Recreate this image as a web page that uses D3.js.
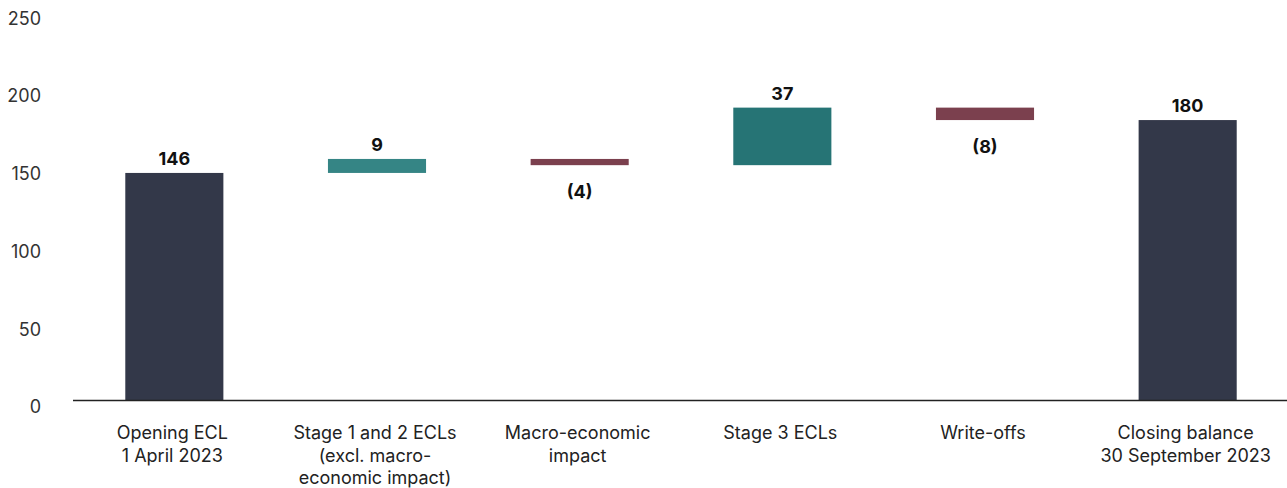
<!DOCTYPE html>
<html><head><meta charset="utf-8">
<script src="https://cdn.jsdelivr.net/npm/d3@7/dist/d3.min.js"></script>
<style>
body{margin:0;background:#fff;}
text{font-family:Inter,"Noto Sans",sans-serif;}
</style></head>
<body><svg id="c" width="1287" height="488"></svg>
<script>
const categories = [["Opening ECL","1 April 2023"],["Stage 1 and 2 ECLs","(excl. macro-","economic impact)"],["Macro-economic","impact"],["Stage 3 ECLs"],["Write-offs"],["Closing balance","30 September 2023"]];
const values = [146, 9, -4, 37, -8, 180];
const kinds = ["total","delta","delta","delta","delta","total"];
const valueLabels = ["146","9","(4)","37","(8)","180"];
const barColors = ["#333849","#358585","#7b404e","#267475","#7b404e","#333849"];
const yTicks = [0,50,100,150,200,250];

const svg = d3.select("#c");
const x = d3.scaleBand().domain(d3.range(values.length)).range([73,1289]).paddingInner(0.516).paddingOuter(0.258);
const y = d3.scaleLinear().domain([0,250]).range([400,11.2]);

let run = 0;
const bars = values.map((v,i)=>{
  let lo, hi;
  if(kinds[i]==="total"){ lo=0; hi=v; run=v; }
  else { const s=run; run=s+v; lo=Math.min(s,run); hi=Math.max(s,run); }
  return {i, v, lo, hi};
});

svg.append("g").selectAll("text").data(yTicks).join("text")
  .attr("x",41).attr("y",d=>y(d)+7).attr("dy","0.35em")
  .attr("text-anchor","end").attr("font-size",18).attr("fill","#333")
  .text(d=>d);

svg.append("g").selectAll("rect").data(bars).join("rect")
  .attr("x",d=>x(d.i)).attr("width",x.bandwidth())
  .attr("y",d=>y(d.hi)).attr("height",d=>y(d.lo)-y(d.hi))
  .attr("fill",d=>barColors[d.i]);

svg.append("line").attr("x1",73).attr("x2",1287).attr("y1",400.5).attr("y2",400.5)
  .attr("stroke","#222").attr("stroke-width",1.6);

svg.append("g").selectAll("text").data(bars).join("text")
  .attr("x",d=>x(d.i)+x.bandwidth()/2)
  .attr("y",d=> d.v>=0 ? y(d.hi)-8 : y(d.lo)+33)
  .attr("text-anchor","middle").attr("font-size",18).attr("font-weight",700).attr("fill","#111")
  .text(d=>valueLabels[d.i]);

const xl = svg.append("g");
categories.forEach((lines,i)=>{
  const t = xl.append("text").attr("text-anchor","middle").attr("font-size",18).attr("fill","#222");
  lines.forEach((l,k)=>{
    t.append("tspan").attr("x",x(i)+x.bandwidth()/2 - 2).attr("y",439+k*22.5).text(l);
  });
});
</script></body></html>
